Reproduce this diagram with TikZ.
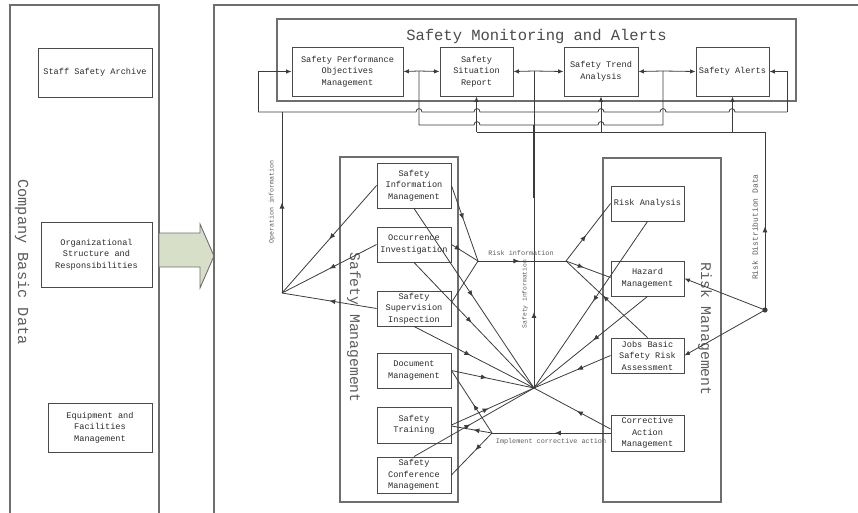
\documentclass[tikz,border=0pt]{standalone}
\usepackage{fontspec}
\newfontfamily\monof{Liberation Mono}
\usetikzlibrary{arrows.meta,decorations.markings}

\definecolor{linec}{HTML}{3C3C3C}
\definecolor{boxc}{HTML}{4A4A4A}
\definecolor{panelc}{HTML}{6E6E6E}
\definecolor{txtc}{HTML}{2A2A2A}
\definecolor{labc}{HTML}{5C5C5C}
\definecolor{arrowfill}{HTML}{D8DFC8}

% horizontal line segment that jumps over a vertical line at x = #1 (left to right)
\newcommand\hopx[2]{-- ({#1-3},#2) .. controls ({#1-3},{#2-4.5}) and ({#1+3},{#2-4.5}) .. ({#1+3},#2)}

\tikzset{
  conn/.style={color=linec, line width=0.8pt},
  tip/.style={-{Latex[length=5.5pt,width=4.5pt]}},
  midarrow/.style={postaction={decorate},
    decoration={markings, mark=at position #1 with {\arrow{Latex[length=6pt,width=5pt]}}}},
  box/.style={draw=boxc, line width=0.9pt, inner sep=0pt, align=center,
    font=\monof\fontsize{8.6}{11.5}\selectfont, text=txtc},
  panel/.style={draw=panelc, line width=1.1pt, inner sep=0pt},
  biglabel/.style={font=\monof\fontsize{15}{15}\selectfont, text=labc},
  smalllabel/.style={font=\monof\fontsize{6.8}{7}\selectfont, text=labc},
}

\begin{document}
\begin{tikzpicture}[x=1pt, y=-1pt]
\useasboundingbox (0,0) rectangle (858,512);

% ---------- company basic data ----------
\draw[panel] (10,514) -- (10,5) -- (159,5) -- (159,514);
\node[biglabel, rotate=-90, font=\monof\fontsize{15.3}{15}\selectfont] (cbd) at (22,262) {Company Basic Data};
\node[box, minimum width=114pt, minimum height=49pt] (ssa) at (95,72.5) {Staff Safety Archive};
\node[box, minimum width=111pt, minimum height=65pt] (osr) at (96.5,254.5) {Organizational\\Structure and\\Responsibilities};
\node[box, minimum width=104pt, minimum height=49pt] (efm) at (100,427.5) {Equipment and\\Facilities\\Management};

% block arrow into the system
\draw[draw=panelc, line width=0.9pt, fill=arrowfill]
  (159,233) -- (200,233) -- (200,224) -- (214,256) -- (200,288) -- (200,267) -- (159,267) -- cycle;

% ---------- system frame ----------
\draw[panel] (214,514) -- (214,5) -- (860,5);

% ---------- safety monitoring and alerts ----------
\node[panel, minimum width=519pt, minimum height=82pt] (sma) at (536.5,60) {};
\node[anchor=base, font=\monof\fontsize{15.5}{16}\selectfont, text=txtc!85!white] (smatitle) at (536.5,40) {Safety Monitoring and Alerts};
\node[box, minimum width=111pt, minimum height=49pt] (spom) at (347.5,71.5) {Safety Performance\\Objectives\\Management};
\node[box, minimum width=73pt, minimum height=49pt] (ssr) at (476.5,71.5) {Safety\\Situation\\Report};
\node[box, minimum width=74pt, minimum height=49pt] (sta) at (601,71.5) {Safety Trend\\Analysis};
\node[box, minimum width=73pt, minimum height=49pt] (sa) at (732.5,71.5) {Safety Alerts};

% ---------- safety management ----------
\node[panel, minimum width=118pt, minimum height=345pt] (smp) at (399,329.5) {};
\node[biglabel, rotate=-90, font=\monof\fontsize{14.7}{15}\selectfont] (smlabel) at (354,327.5) {Safety Management};
\node[box, minimum width=74pt, minimum height=45pt] (sim) at (414,185.5) {Safety\\Information\\Management};
\node[box, minimum width=74pt, minimum height=35pt] (oi) at (414,244.5) {Occurrence\\Investigation};
\node[box, minimum width=74pt, minimum height=35pt] (ssi) at (414,308.5) {Safety\\Supervision\\Inspection};
\node[box, minimum width=74pt, minimum height=35pt] (dm) at (414,370.5) {Document\\Management};
\node[box, minimum width=74pt, minimum height=36pt] (st) at (414,425) {Safety\\Training};
\node[box, minimum width=74pt, minimum height=36pt] (scm) at (414,475) {Safety\\Conference\\Management};

% ---------- risk management ----------
\node[panel, minimum width=118pt, minimum height=344pt] (rmp) at (662,330) {};
\node[biglabel, rotate=-90, font=\monof\fontsize{14.8}{15}\selectfont] (rmlabel) at (705,329) {Risk Management};
\node[box, minimum width=73pt, minimum height=35pt] (ra) at (647.5,203.5) {Risk Analysis};
\node[box, minimum width=73pt, minimum height=35pt] (hm) at (647.5,278.5) {Hazard\\Management};
\node[box, minimum width=73pt, minimum height=35pt] (jb) at (647.5,355.5) {Jobs Basic\\Safety Risk\\Assessment};
\node[box, minimum width=73pt, minimum height=36pt] (cam) at (647.5,433) {Corrective\\Action\\Management};

% ---------- junctions ----------
\coordinate (J1) at (419,71);
\coordinate (J2) at (534,71);
\coordinate (J3) at (663,71);
\coordinate (L) at (282,293);
\coordinate (R1) at (478,261);
\coordinate (R2) at (566,261);
\coordinate (C) at (534,388);
\coordinate (D) at (765,310);
\coordinate (B) at (492,433);
\coordinate (opTop) at (282,112);
\coordinate (loopL) at (258,112);
\coordinate (loopR) at (787,112);
\coordinate (sdTop) at (765,132);
\coordinate (sdLeft) at (477,132);
\coordinate (fbL) at (419,125);
\coordinate (fbR) at (663,125);

% ---------- monitoring bus ----------
\draw[conn,tip] (J1) -- (spom.east);
\draw[conn,tip] (J1) -- (ssr.west);
\draw[conn,tip] (J2) -- (ssr.east);
\draw[conn,tip] (J2) -- (sta.west);
\draw[conn,tip] (J3) -- (sta.east);
\draw[conn,tip] (J3) -- (sa.west);

% outer loop carrying operation information
\draw[conn] (loopL) \hopx{419}{112} \hopx{477}{112} \hopx{601}{112} \hopx{663}{112} \hopx{732}{112} -- (loopR);
\draw[conn,tip] (loopL) -- (loopL |- spom.west) -- (spom.west);
\draw[conn,tip] (loopR) -- (loopR |- sa.east) -- (sa.east);
\draw[conn,midarrow=0.5] (L) -- (opTop);

% link between the two outer junctions
\draw[conn] (J1) -- (fbL) \hopx{477}{125} \hopx{601}{125} -- (fbR) -- (J3);

% safety information riser and distribution line
\draw[conn,midarrow=0.24] (C) -- (J2);
\draw[conn,line width=1.5pt] (534,125) -- (534,198);
\draw[conn] (sdLeft) -- (sdTop);
\draw[conn,tip] (ssr.south |- sdTop) -- (ssr.south);
\draw[conn,tip] (sta.south |- sdTop) -- (sta.south);
\draw[conn,tip] (sa.south |- sdTop) -- (sa.south);
\draw[conn,midarrow=0.47] (D) -- (sdTop);
\fill[linec] (D) circle[radius=2.6pt];
\draw[conn,tip] (D) -- (hm.east);
\draw[conn,tip] (D) -- (jb.east);

% operation information from safety management
\draw[conn,midarrow=0.5] (sim.west) -- (L);
\draw[conn,midarrow=0.5] (oi.west) -- (L);
\draw[conn,midarrow=0.5] (ssi.west) -- (L);

% risk information
\draw[conn,midarrow=0.45] (sim.east) -- (R1);
\draw[conn,midarrow=0.35] (oi.east) -- (R1);
\draw[conn] ([yshift=6pt]ssi.east) -- (R1);
\draw[conn,midarrow=0.47] (R1) -- (R2);
\draw[conn,midarrow=0.45] (R2) -- (ra.west);
\draw[conn,midarrow=0.4] (R2) -- ([yshift=1pt]hm.west);
\draw[conn,midarrow=0.55] (jb.north) -- (R2);

% safety information into the centre
\draw[conn,midarrow=0.49] (sim.south) -- (C);
\draw[conn,midarrow=0.48] (oi.south) -- (C);
\draw[conn,midarrow=0.47] (ssi.south) -- (C);
\draw[conn,midarrow=0.43] (dm.east) -- (C);
\draw[conn,midarrow=0.45] (st.east) -- (C);
\draw[conn,midarrow=0.47] (scm.north) -- (C);
\draw[conn,midarrow=0.48] (ra.south) -- (C);
\draw[conn,midarrow=0.48] (hm.south) -- (C);
\draw[conn,midarrow=0.44] (jb.west) -- (C);
\draw[conn,midarrow=0.44] ([yshift=4pt]cam.west) -- (C);

% corrective action
\draw[conn,midarrow=0.47] (cam.west) -- (B);
\draw[conn,midarrow=0.46] (B) -- (dm.east);
\draw[conn,midarrow=0.46] (B) -- ([yshift=-1pt]st.east);
\draw[conn,midarrow=0.41] (B) -- (scm.east);

% connector labels
\node[smalllabel, rotate=90, font=\monof\fontsize{6.6}{7}\selectfont] (opinfo) at (272,202) {Operation information};
\node[smalllabel] (riskinfo) at (521,253) {Risk information};
\node[smalllabel, rotate=90, font=\monof\fontsize{6.3}{7}\selectfont] (safeinfo) at (525,294) {Safety information};
\node[smalllabel, rotate=90, font=\monof\fontsize{8}{8}\selectfont] (rdd) at (755,227) {Risk Distribution Data};
\node[smalllabel] (ica) at (551,442) {Implement corrective action};
\end{tikzpicture}
\end{document}
